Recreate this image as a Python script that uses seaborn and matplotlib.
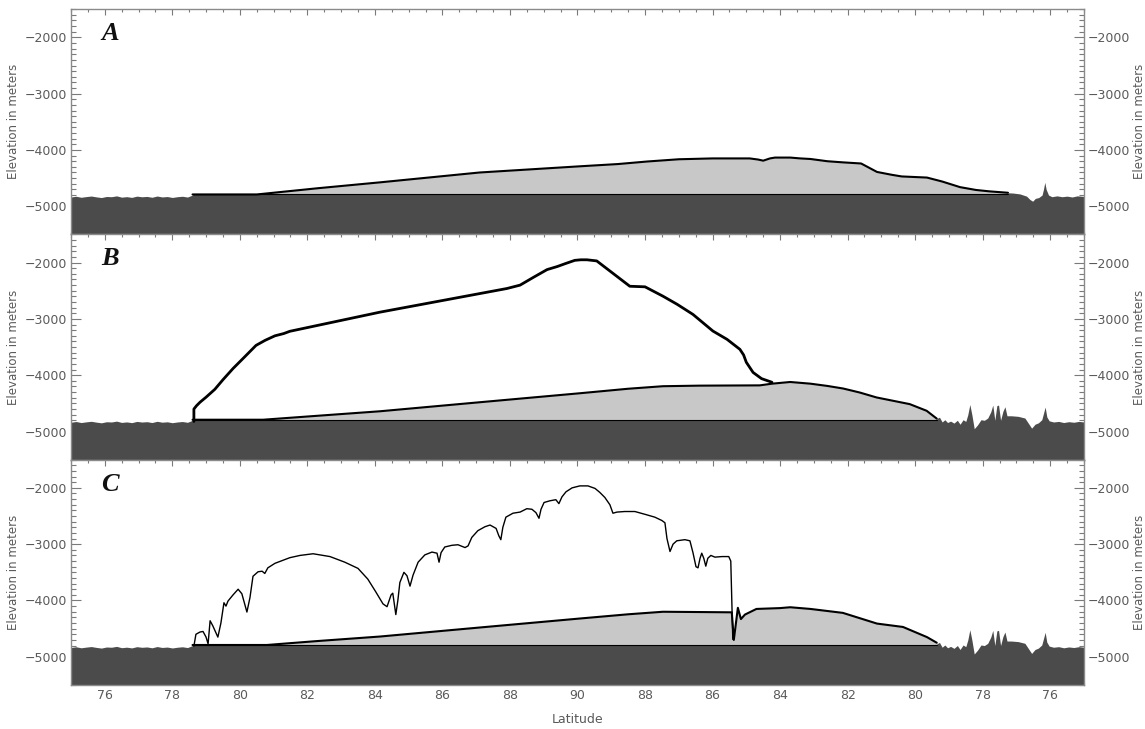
import numpy as np
import matplotlib
matplotlib.use("Agg")
import matplotlib.pyplot as plt
import pandas as pd
import seaborn as sns

# ---------------------------------------------------------------------------
# Profile data: distance along the transect in degrees of arc (0 = 75N on the
# near side, 15 = North Pole, 30 = 75N on the far side), elevation in metres.
# ---------------------------------------------------------------------------
BASE = -4790          # top of the abyssal plain under the ridge
YMIN, YMAX = -5500, -1500

lat_ticks = [1, 3, 5, 7, 9, 11, 13, 15, 17, 19, 21, 23, 25, 27, 29]
lat_labels = ["76", "78", "80", "82", "84", "86", "88", "90",
              "88", "86", "84", "82", "80", "78", "76"]

# abyssal plain, near side
floor_left_d = [0.00, 0.15, 0.30, 0.45, 0.60, 0.75, 0.90, 1.05, 1.20, 1.35,
                1.50, 1.65, 1.80, 1.95, 2.10, 2.25, 2.40, 2.55, 2.70, 2.85,
                3.00, 3.15, 3.30, 3.45, 3.60]
floor_left_z = [-4835, -4822, -4840, -4828, -4818, -4833, -4845, -4826, -4830, -4815,
                -4838, -4829, -4842, -4820, -4831, -4825, -4840, -4818, -4834, -4827,
                -4843, -4830, -4822, -4836, -4800]

# far-side sea floor, model A
floor_right_a_d = [27.75, 27.90, 28.10, 28.30, 28.40, 28.48, 28.56, 28.66, 28.76, 28.80,
                   28.84, 28.88, 28.95, 29.05, 29.20, 29.35, 29.50, 29.65, 29.80, 30.00]
floor_right_a_z = [-4760, -4765, -4780, -4820, -4880, -4910, -4860, -4845, -4800, -4700,
                   -4575, -4700, -4800, -4830, -4815, -4830, -4820, -4835, -4815, -4825]

# far-side sea floor, models B and C
floor_right_bc_d = [25.64, 25.72, 25.80, 25.88, 25.96, 26.05, 26.15, 26.25, 26.33, 26.42,
                    26.50, 26.56, 26.62, 26.68, 26.75, 26.85, 26.95, 27.05, 27.15, 27.24,
                    27.30, 27.36, 27.42, 27.47, 27.53, 27.60, 27.66, 27.72, 27.85, 28.05,
                    28.25, 28.35, 28.45, 28.55, 28.65, 28.75, 28.80, 28.85, 28.90, 28.97,
                    29.10, 29.25, 29.40, 29.55, 29.70, 29.85, 30.00]
floor_right_bc_z = [-4770, -4745, -4830, -4790, -4840, -4815, -4850, -4800, -4870, -4790,
                    -4820, -4700, -4520, -4700, -4950, -4880, -4790, -4800, -4760, -4650,
                    -4530, -4800, -4540, -4530, -4800, -4640, -4560, -4720, -4720, -4730,
                    -4760, -4850, -4940, -4870, -4845, -4790, -4680, -4565, -4740, -4810,
                    -4830, -4820, -4840, -4825, -4835, -4820, -4830]

# sediment ridge (light grey body), model A
ridge_a_d = [3.60, 5.50, 7.30, 9.15, 12.10, 15.07, 16.20, 17.06, 18.00, 19.00,
             20.10, 20.35, 20.50, 20.70, 20.85, 21.30, 21.60, 21.90, 22.40, 22.86,
             23.40, 23.87, 24.30, 24.60, 25.35, 25.80, 26.33, 26.80, 27.20, 27.75]
ridge_a_z = [BASE, BASE, -4680, -4575, -4400, -4290, -4250, -4205, -4165, -4150,
             -4150, -4170, -4190, -4150, -4135, -4135, -4150, -4160, -4200, -4220,
             -4240, -4390, -4440, -4470, -4490, -4560, -4660, -4710, -4735, -4760]

# sediment ridge, model B
ridge_b_d = [3.60, 5.69, 7.30, 9.15, 12.10, 15.07, 16.50, 17.53, 18.60, 20.40,
             20.76, 21.30, 21.90, 22.40, 22.87, 23.36, 23.86, 24.35, 24.84, 25.34,
             25.64]
ridge_b_z = [BASE, BASE, -4720, -4640, -4480, -4320, -4240, -4195, -4185, -4180,
             -4150, -4120, -4150, -4190, -4236, -4307, -4395, -4454, -4513, -4631,
             -4770]

# sediment ridge, model C
ridge_c_d = [3.60, 5.80, 7.30, 9.15, 12.10, 15.07, 16.50, 17.53, 18.60, 19.57,
             19.63, 19.75, 19.84, 19.96, 20.30, 21.00, 21.30, 21.90, 22.86, 23.87,
             24.64, 25.35, 25.64]
ridge_c_z = [BASE, BASE, -4720, -4640, -4480, -4320, -4245, -4200, -4205, -4210,
             -4700, -4130, -4330, -4250, -4150, -4135, -4120, -4150, -4220, -4410,
             -4470, -4650, -4750]

# smooth crest surface, model B
crest_b_d = [3.64, 3.64, 3.72, 3.82, 4.00, 4.26, 4.50, 4.80, 5.10, 5.48,
             5.75, 6.04, 6.30, 6.48, 9.15, 12.91, 13.30, 13.70, 14.10, 14.40,
             14.63, 14.92, 15.10, 15.28, 15.57, 16.55, 17.00, 17.53, 17.95, 18.42,
             19.01, 19.43, 19.81, 19.92, 20.00, 20.20, 20.45, 20.76]
crest_b_z = [-4820, -4600, -4540, -4480, -4390, -4250, -4080, -3880, -3700, -3470,
             -3380, -3300, -3260, -3220, -2880, -2460, -2400, -2260, -2124, -2070,
             -2020, -1960, -1950, -1950, -1970, -2420, -2430, -2596, -2740, -2920,
             -3215, -3363, -3540, -3640, -3770, -3950, -4060, -4125]

# rough crest surface, model C
crest_c_d = [3.64, 3.70, 3.82, 3.91, 4.00, 4.06, 4.12, 4.20, 4.35, 4.44,
             4.53, 4.59, 4.65, 4.80, 4.95, 5.06, 5.21, 5.30, 5.39, 5.54,
             5.66, 5.74, 5.83, 6.04, 6.48, 6.78, 7.17, 7.67, 8.11, 8.50,
             8.79, 9.03, 9.24, 9.36, 9.48, 9.53, 9.62, 9.68, 9.74, 9.86,
             9.95, 10.04, 10.13, 10.28, 10.48, 10.69, 10.84, 10.90, 10.96, 11.07,
             11.28, 11.46, 11.67, 11.76, 11.87, 12.05, 12.26, 12.41, 12.59, 12.67,
             12.73, 12.79, 12.88, 13.09, 13.30, 13.50, 13.65, 13.77, 13.86, 13.92,
             14.01, 14.18, 14.36, 14.45, 14.54, 14.66, 14.84, 15.07, 15.31, 15.52,
             15.66, 15.81, 15.96, 16.05, 16.17, 16.40, 16.70, 17.00, 17.29, 17.50,
             17.59, 17.65, 17.74, 17.83, 17.94, 18.18, 18.33, 18.42, 18.51, 18.57,
             18.63, 18.68, 18.74, 18.80, 18.86, 18.95, 19.07, 19.28, 19.48, 19.54,
             19.60]
crest_c_z = [-4810, -4600, -4560, -4550, -4650, -4770, -4360, -4450, -4650, -4400,
             -4040, -4100, -4010, -3900, -3800, -3880, -4205, -3950, -3570, -3490,
             -3480, -3520, -3420, -3340, -3240, -3200, -3170, -3220, -3320, -3430,
             -3620, -3850, -4060, -4110, -3900, -3870, -4250, -4000, -3680, -3500,
             -3560, -3745, -3550, -3320, -3190, -3140, -3160, -3320, -3150, -3050,
             -3020, -3010, -3060, -3030, -2880, -2760, -2690, -2660, -2720, -2850,
             -2920, -2700, -2520, -2450, -2430, -2370, -2380, -2440, -2540, -2380,
             -2260, -2230, -2210, -2280, -2160, -2070, -2000, -1965, -1965, -2010,
             -2080, -2170, -2300, -2450, -2430, -2420, -2420, -2470, -2520, -2580,
             -2620, -2900, -3130, -3000, -2940, -2920, -2940, -3150, -3400, -3420,
             -3250, -3160, -3250, -3390, -3250, -3200, -3230, -3220, -3220, -3300,
             -4690]

DARK = "#4b4b4b"
LIGHT = "#c8c8c8"
TICK = "#7a7a7a"
TEXT = "#5a5a5a"

sns.set_style("white")
plt.rcParams["font.family"] = ["DejaVu Sans"]


def floor_profile(right_d, right_z):
    d = list(floor_left_d) + [floor_left_d[-1] + 0.01, right_d[0] - 0.01] + list(right_d)
    z = list(floor_left_z) + [BASE, BASE] + list(right_z)
    return np.array(d), np.array(z)


def line(ax, d, z, lw):
    df = pd.DataFrame({"d": d, "z": z})
    sns.lineplot(data=df, x="d", y="z", ax=ax, color="black", linewidth=lw,
                 estimator=None, sort=False, legend=False)


panels = [
    ("A", floor_right_a_d, floor_right_a_z, ridge_a_d, ridge_a_z, None, None, 0),
    ("B", floor_right_bc_d, floor_right_bc_z, ridge_b_d, ridge_b_z, crest_b_d, crest_b_z, 2.0),
    ("C", floor_right_bc_d, floor_right_bc_z, ridge_c_d, ridge_c_z, crest_c_d, crest_c_z, 1.0),
]

fig = plt.figure(figsize=(11.45, 7.29), dpi=100)
left, width = 0.062, 0.8847
bottoms = [0.6784, 0.3694, 0.0604]
height = 0.309

for i, (tag, frd, frz, rd, rz, cd, cz, clw) in enumerate(panels):
    ax = fig.add_axes([left, bottoms[i], width, height])
    fd, fz = floor_profile(frd, frz)
    ax.fill_between(fd, YMIN, fz, color=DARK, linewidth=0, zorder=1)
    ax.fill_between(rd, BASE, rz, color=LIGHT, linewidth=0, zorder=2)
    ax.plot([rd[0], rd[-1]], [BASE, BASE], color="black", lw=0.8, zorder=3)
    line(ax, rd, rz, 1.5)
    if cd is not None:
        line(ax, cd, cz, clw)

    # second axis only carries the right-hand axis title
    ax2 = ax.twinx()
    ax2.set_ylim(YMIN, YMAX)
    ax2.set_yticks([])
    ax2.set_ylabel("Elevation in meters", color=TEXT, fontsize=8.5, labelpad=35)
    for sp in ax2.spines.values():
        sp.set_visible(False)

    ax.set_xlim(0, 30)
    ax.set_ylim(YMIN, YMAX)
    ax.set_xticks(lat_ticks)
    ax.set_xticks(np.arange(0, 30.01, 0.5), minor=True)
    ax.set_yticks([-5000, -4000, -3000, -2000])
    ax.set_yticks(np.arange(-5500, -1499, 100), minor=True)
    ax.tick_params(which="both", direction="in", top=True, bottom=True,
                   left=True, right=True, labelleft=True, labelright=True,
                   colors=TICK, labelcolor=TEXT, labelsize=9, pad=3, width=0.8)
    ax.tick_params(axis="y", which="major", length=7.5)
    ax.tick_params(axis="y", which="minor", length=3.5)
    ax.tick_params(axis="x", which="major", length=4.5)
    ax.tick_params(axis="x", which="minor", length=2.5)
    if i == 2:
        ax.set_xticklabels(lat_labels)
        ax.set_xlabel("Latitude", color=TEXT, fontsize=9, labelpad=8)
    else:
        ax.set_xticklabels([])
        ax.set_xlabel("")
    ax.set_ylabel("Elevation in meters", color=TEXT, fontsize=8.5, labelpad=3)

    for sp in ax.spines.values():
        sp.set_color("#8a8a8a")
        sp.set_linewidth(1.0)

    ax.text(0.9, YMAX - 230, tag, fontsize=19, fontweight="bold", fontstyle="italic",
            family=["Liberation Serif", "DejaVu Serif"], va="top", ha="left",
            color="#111111", zorder=5)

fig.savefig("out.png", dpi=100)
